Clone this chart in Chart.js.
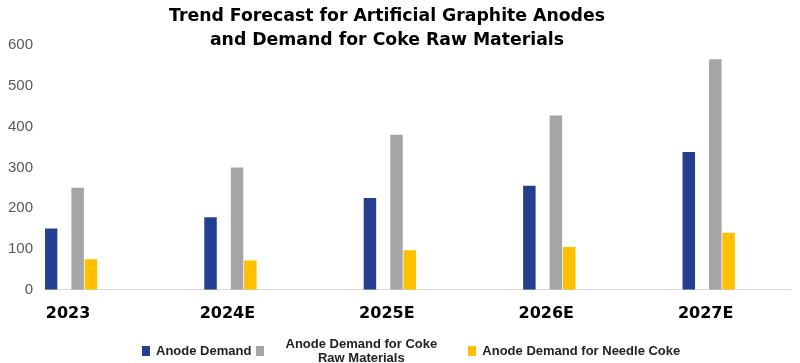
<!DOCTYPE html>
<html>
<head>
<meta charset="utf-8">
<title>Trend Forecast for Artificial Graphite Anodes</title>
<script src="https://cdn.jsdelivr.net/npm/chart.js@4.4.0/dist/chart.umd.min.js"></script>
<style>
  html, body { margin: 0; padding: 0; background: #fff; }
  #wrap { position: relative; width: 800px; height: 363px; overflow: hidden; }
  #chart-box { position: absolute; left: 0; top: 0; width: 800px; height: 363px; }
  #title {
    position: absolute; left: 0; top: 3px; width: 774px;
    text-align: center; font: bold 17.3px 'DejaVu Sans', sans-serif;
    line-height: 24px; color: #000; z-index: 2;
  }
  #legend {
    position: absolute; left: 142px; top: 336px; height: 30px;
    display: flex; align-items: center;
    font: bold 13px 'Liberation Sans', Arial, sans-serif; color: #222; z-index: 2;
  }
  .item { display: flex; align-items: center; }
  .swatch { width: 8px; height: 10px; margin-right: 6px; }
  .label { white-space: nowrap; line-height: 14px; }
  .label.wrap { width: 182px; text-align: center; white-space: normal; }
</style>
</head>
<body>
<div id="wrap">
  <div id="title">Trend Forecast for Artificial Graphite Anodes<br>and Demand for Coke Raw Materials</div>
  <div id="chart-box"><canvas id="chart"></canvas></div>
  <div id="legend"></div>
</div>
<script>
// 카테고리 / 시리즈 값
const years = ['2023', '2024E', '2025E', '2026E', '2027E'];
const anodeDemand = [150, 178, 225, 255, 338];
const cokeRawDemand = [250, 300, 380, 427, 565];
const needleCokeDemand = [75, 72, 97, 105, 140];
const yTicks = [0, 100, 200, 300, 400, 500, 600];

const seriesNames = ['Anode Demand', 'Anode Demand for Coke Raw Materials', 'Anode Demand for Needle Coke'];
const seriesColors = ['#243f8f', '#a5a5a5', '#ffc000'];

const toPoints = values => values.map((v, i) => ({ x: i, y: v }));

const datasets = [
    { label: seriesNames[0], data: toPoints(anodeDemand), backgroundColor: seriesColors[0] },
    // 원본 차트의 빈 시리즈 자리 (파란 막대와 회색 막대 사이 간격)
    { label: '', data: [], backgroundColor: 'transparent' },
    { label: seriesNames[1], data: toPoints(cokeRawDemand), backgroundColor: seriesColors[1] },
    { label: seriesNames[2], data: toPoints(needleCokeDemand), backgroundColor: seriesColors[2] }
];

new Chart(document.getElementById('chart').getContext('2d'), {
    type: 'bar',
    data: { datasets: datasets },
    options: {
        responsive: true,
        maintainAspectRatio: false,
        animation: false,
        categoryPercentage: 0.333,
        barPercentage: 0.94,
        layout: { padding: { top: 45, left: -4, right: 10, bottom: 26 } },
        plugins: {
            legend: { display: false },
            title: { display: false },
            tooltip: { enabled: false }
        },
        scales: {
            x: {
                type: 'linear',
                offset: false,
                min: -0.163,
                max: 4.51,
                grid: { display: false, drawTicks: false },
                border: { display: true, color: '#d9d9d9', width: 1 },
                afterBuildTicks: scale => { scale.ticks = years.map((_, i) => ({ value: i })); },
                afterFit: scale => { scale.paddingLeft = 0; scale.paddingRight = 0; },
                ticks: {
                    autoSkip: false,
                    maxRotation: 0,
                    padding: 14,
                    labelOffset: -3,
                    color: '#000',
                    font: { family: 'DejaVu Sans', size: 16, weight: 'bold' },
                    callback: v => years[v] ?? ''
                }
            },
            y: {
                min: 0,
                max: 600,
                grid: { display: false, drawTicks: false },
                border: { display: false },
                afterBuildTicks: scale => { scale.ticks = yTicks.map(v => ({ value: v })); },
                ticks: {
                    padding: 12,
                    color: '#595959',
                    font: { family: 'Liberation Sans', size: 15 }
                }
            }
        }
    }
});

// 범례 (두 번째 항목은 원본처럼 두 줄로 가운데 정렬)
const legendDiv = document.getElementById('legend');
const legendGaps = ['0', '5px', '16px'];
seriesNames.forEach((name, i) => {
    const item = document.createElement('div');
    item.className = 'item';
    item.style.marginLeft = legendGaps[i];
    const sw = document.createElement('span');
    sw.className = 'swatch';
    sw.style.background = seriesColors[i];
    const lab = document.createElement('span');
    lab.className = i === 1 ? 'label wrap' : 'label';
    lab.textContent = name;
    item.appendChild(sw);
    item.appendChild(lab);
    legendDiv.appendChild(item);
});
</script>
</body>
</html>
